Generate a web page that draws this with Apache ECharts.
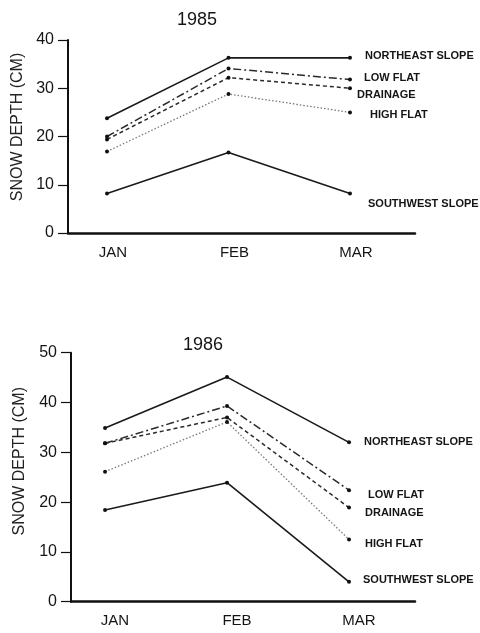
<!DOCTYPE html>
<html>
<head>
<meta charset="utf-8">
<script src="https://cdn.jsdelivr.net/npm/echarts@6/dist/echarts.min.js"></script>
<style>html,body{margin:0;padding:0;background:#fff}#c{width:480px;height:633px}</style>
</head>
<body>
<div id="c"></div>
<script>
// ---- data ----
var months = ['JAN', 'FEB', 'MAR'];
var siteNames = ['NORTHEAST SLOPE', 'LOW FLAT', 'DRAINAGE', 'HIGH FLAT', 'SOUTHWEST SLOPE'];
var years = ['1985', '1986'];
var ticks1985 = [0, 10, 20, 30, 40];
var ticks1986 = [0, 10, 20, 30, 40, 50];
var ne1985 = [23.8, 36.3, 36.3];
var lf1985 = [20.0, 34.1, 31.8];
var dr1985 = [19.4, 32.2, 30.0];
var hf1985 = [16.9, 28.8, 25.0];
var sw1985 = [8.2, 16.7, 8.2];
var ne1986 = [34.9, 45.1, 32.0];
var lf1986 = [31.8, 39.3, 22.4];
var dr1986 = [31.8, 37.0, 18.9];
var hf1986 = [26.1, 36.1, 12.5];
var sw1986 = [18.4, 23.9, 4.0];

// ---- styles ----
var FONT = '"Liberation Sans", Arial, sans-serif';
var INK = '#151515';
var lineStyles = [
  {type: 'solid', color: '#1a1a1a', width: 1.6},
  {type: [8, 3, 2, 3], color: '#2a2a2a', width: 1.5},
  {type: [4, 3], color: '#2a2a2a', width: 1.5},
  {type: [1.5, 2], color: '#777777', width: 1.3},
  {type: 'solid', color: '#1a1a1a', width: 1.6}
];
var labelOffsets = [
  [[13, -2], [12, -2], [5, 7], [18, 3], [16, 11]],
  [[13, 0], [17, 5], [14, 5], [14, 5], [12, -2]]
];
var grids = [
  {left: 68, top: 40, width: 347, height: 193, xmin: -0.321, xmax: 2.535, nameGap: 40, nameShift: 19, monthPad: 12},
  {left: 71, top: 352.7, width: 344, height: 249, xmin: -0.279, xmax: 2.541, nameGap: 43, nameShift: 32, monthPad: 20}
];
var yearData = [
  [ne1985, lf1985, dr1985, hf1985, sw1985],
  [ne1986, lf1986, dr1986, hf1986, sw1986]
];
var yearTicks = [ticks1985, ticks1986];

var option = {
  animation: false,
  backgroundColor: '#ffffff',
  title: [
    {text: years[0], left: 172, top: 6, textStyle: {fontFamily: FONT, fontSize: 18, fontWeight: 'normal', color: INK}},
    {text: years[1], left: 178, top: 331, textStyle: {fontFamily: FONT, fontSize: 18, fontWeight: 'normal', color: INK}}
  ],
  grid: [],
  xAxis: [],
  yAxis: [],
  series: []
};

grids.forEach(function (g, gi) {
  option.grid.push({left: g.left, top: g.top, width: g.width, height: g.height, containLabel: false});
  option.xAxis.push({
    type: 'value', gridIndex: gi, min: g.xmin, max: g.xmax,
    splitLine: {show: false},
    axisLine: {show: true, onZero: false, lineStyle: {color: '#111', width: 2.5}},
    axisTick: {show: false},
    axisLabel: {
      customValues: months.map(function (m, i) { return i; }),
      formatter: function (v) { return months[Math.round(v)] || ''; },
      margin: 12, padding: [0, 0, 0, g.monthPad],
      fontFamily: FONT, fontSize: 15, color: INK
    }
  });
  var tk = yearTicks[gi];
  option.yAxis.push({
    type: 'value', gridIndex: gi, min: tk[0], max: tk[tk.length - 1], interval: 10,
    name: 'SNOW DEPTH (CM)', nameLocation: 'middle', nameGap: g.nameGap,
    nameTextStyle: {fontFamily: FONT, fontSize: 16, color: '#222', padding: [0, 0, 0, g.nameShift]},
    splitLine: {show: false},
    axisLine: {show: true, onZero: false, lineStyle: {color: '#111', width: 2}},
    axisTick: {show: true, length: 10, lineStyle: {color: '#111', width: 1.2}},
    axisLabel: {margin: 14, fontFamily: FONT, fontSize: 16, color: INK}
  });
  yearData[gi].forEach(function (vals, si) {
    var off = labelOffsets[gi][si];
    option.series.push({
      type: 'line', name: siteNames[si] + ' ' + years[gi],
      xAxisIndex: gi, yAxisIndex: gi,
      data: vals.map(function (v, i) { return [i, v]; }),
      symbol: 'circle', symbolSize: 4,
      itemStyle: {color: '#111'},
      lineStyle: lineStyles[si],
      label: {
        show: true, position: 'right', distance: 0, offset: off,
        formatter: function (p) { return p.dataIndex === vals.length - 1 ? siteNames[si] : ''; },
        fontFamily: FONT, fontSize: 11, fontWeight: 'bold', color: INK
      },
      z: 5 - si
    });
  });
});

var chart = echarts.init(document.getElementById('c'), null, {renderer: 'canvas'});
chart.setOption(option);
</script>
</body>
</html>
